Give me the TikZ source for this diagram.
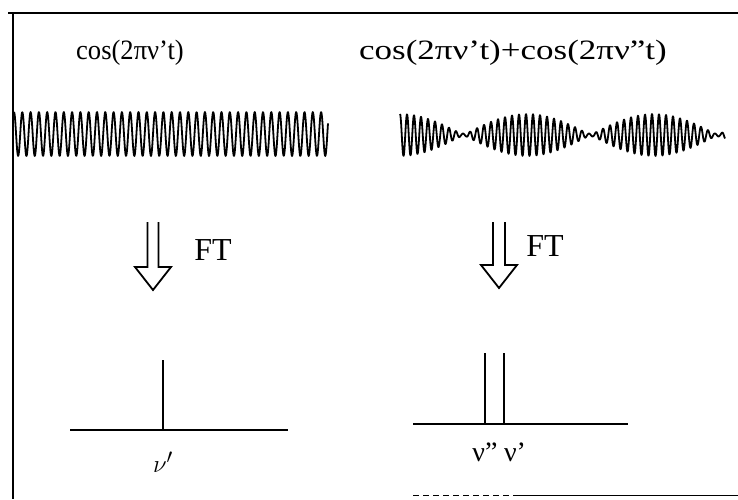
\documentclass[tikz,border=0pt]{standalone}
\usepackage{fontspec}
\setmainfont{Liberation Serif}
\begin{document}
\begin{tikzpicture}[x=1pt,y=-1pt,
  frame/.style={line width=2.2pt},
  wave/.style={line width=1.8pt, line join=round},
  ftarrow/.style={line width=1.8pt, line join=miter},
  axis/.style={line width=2.2pt},
  peak/.style={line width=2.2pt},
  title/.style={font=\fontsize{28}{32}\selectfont, inner sep=0pt},
  ftlbl/.style={font=\fontsize{32}{36}\selectfont, inner sep=0pt},
  lbl/.style={font=\fontsize{28}{32}\selectfont, inner sep=0pt}]
\useasboundingbox (0,0) rectangle (738,499);
% frame
\draw[frame] (8,13) -- (738,13);
\draw[frame] (13,13) -- (13,499);
\draw[line width=1pt] (517,495) -- (738,495);
\draw[line width=1pt, dash pattern=on 6pt off 4pt] (413,495) -- (517,495);
% titles
\node[title, xscale=0.95] (t1) at (130,53) {cos(2πν't)};
\node[title, xscale=1.25] (t2) at (513,53) {cos(2πν't)+cos(2πν"t)};
% waves
\draw[wave] plot[domain=14:328, samples=700] (\x, {134 - 22*cos(360/8.3*mod(\x-14,8.3))});
\draw[wave] plot[domain=400:725, samples=900]
  (\x, {135 - 21*max(abs(cos(180/127*(\x-400))),0.07)*cos(360/7*mod(\x-400,7))});
% FT arrows
\coordinate (a1) at (153,222);
\coordinate (b1) at (153,290);
\draw[ftarrow] ([xshift=-5.5pt]a1) -- ([xshift=-5.5pt]b1 |- 0,267) -- ([xshift=-18pt]b1 |- 0,267) -- (b1)
  -- ([xshift=18pt]b1 |- 0,267) -- ([xshift=5.5pt]b1 |- 0,267) -- ([xshift=5.5pt]a1);
\node[ftlbl] (ft1) at (213,250) {FT};
\coordinate (a2) at (499,222);
\coordinate (b2) at (499,288);
\draw[ftarrow] ([xshift=-6pt]a2) -- ([xshift=-6pt]b2 |- 0,265) -- ([xshift=-18pt]b2 |- 0,265) -- (b2)
  -- ([xshift=18pt]b2 |- 0,265) -- ([xshift=6pt]b2 |- 0,265) -- ([xshift=6pt]a2);
\node[ftlbl] (ft2) at (545,246) {FT};
% spectra
\coordinate (l1) at (70,430);
\coordinate (r1) at (288,430);
\coordinate (p1) at (163,430);
\coordinate (q1) at (163,360);
\draw[axis] (l1) -- (r1);
\draw[peak] (p1) -- (q1);
\node[lbl] (n1) at (163,462) {$\nu'$};
\coordinate (l2) at (413,424);
\coordinate (r2) at (628,424);
\draw[axis] (l2) -- (r2);
\coordinate (p2) at (485,424);
\coordinate (q2) at (485,353);
\coordinate (p3) at (504,424);
\coordinate (q3) at (504,353);
\draw[peak] (p2) -- (q2);
\draw[peak] (p3) -- (q3);
\node[lbl] (n2) at (485,452) {ν"};
\node[lbl] (n3) at (515,452) {ν'};
\end{tikzpicture}
\end{document}
